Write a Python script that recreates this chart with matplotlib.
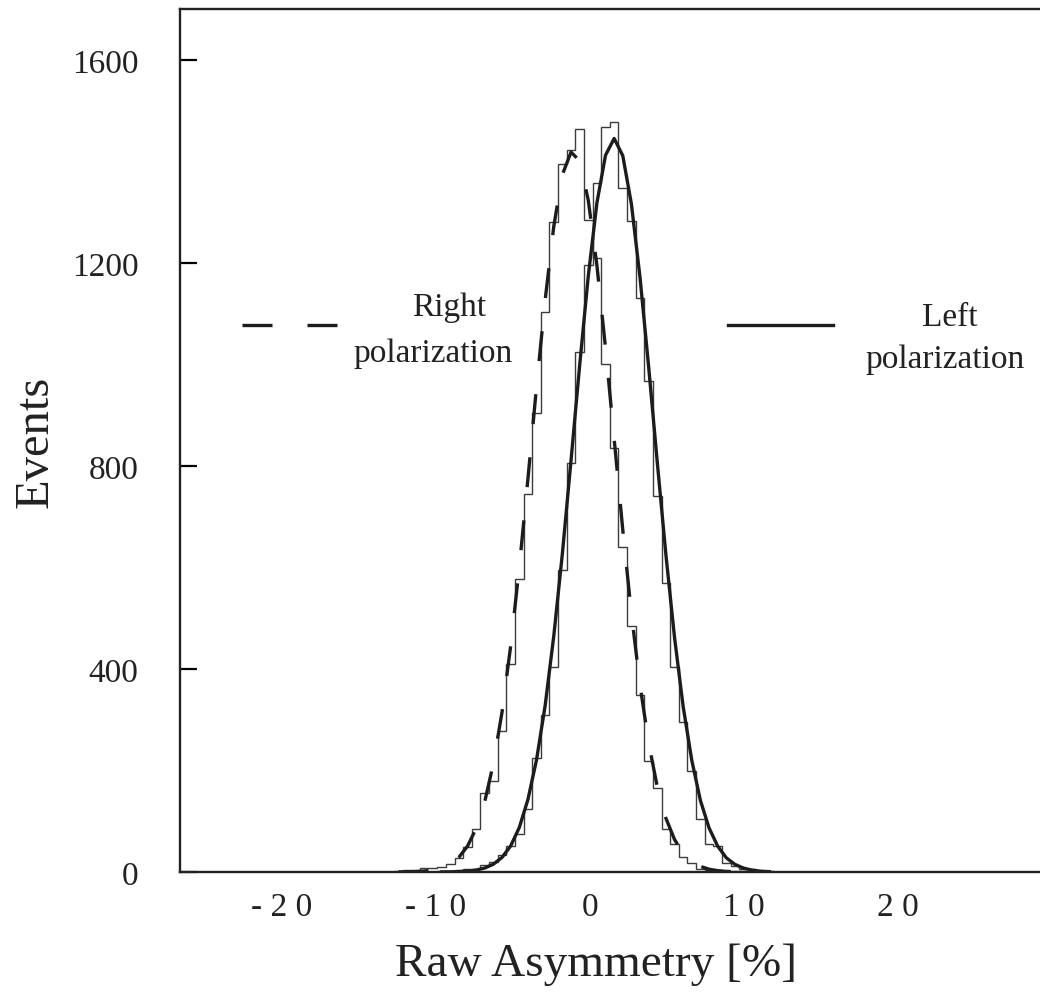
import numpy as np
import matplotlib
matplotlib.use("Agg")
import matplotlib.pyplot as plt
from matplotlib.lines import Line2D

# ---------------- data ----------------
bin_width = 0.56
right_first_edge = -12.71   # Right polarization histogram, first bin edge
left_first_edge = -9.91     # Left polarization histogram, first bin edge

right_counts = [2, 3, 4, 7, 7, 10, 16, 28, 49, 85,
                155, 179, 278, 409, 577, 744, 905, 1104, 1280, 1394,
                1423, 1464, 1285, 1210, 1000, 835, 640, 484, 348, 218,
                165, 85, 55, 30, 18, 5, 4, 3, 2, 2, 1, 1]
left_counts = [1, 2, 3, 6, 6, 14, 20, 33, 51, 75,
               124, 224, 309, 403, 594, 805, 1024, 1195, 1358, 1468,
               1478, 1348, 1283, 1130, 968, 740, 569, 403, 295, 199,
               104, 55, 51, 18, 12, 5, 5, 2, 2]

right_fit = [0.2, 0.4, 0.9, 1.9, 4, 8, 16, 29, 51, 86,
             139, 214, 315, 445, 600, 774, 956, 1127, 1272, 1374,
             1418, 1401, 1323, 1195, 1032, 853, 674, 509, 368, 254,
             168, 106, 64, 37, 21, 11, 5.5, 2.6, 1.2, 0.5, 0.2, 0.1]
left_fit = [0.1, 0.3, 0.8, 1.8, 3.8, 7.8, 15.4, 28.8, 51.3, 87.6,
            142.6, 221, 328, 465, 628, 811, 998, 1174, 1318, 1412,
            1445, 1411, 1316, 1171, 995, 807, 625, 462, 326, 220,
            141, 87, 51, 28, 15, 7.7, 3.6, 1.6, 0.7]

xticks = [-20, -10, 0, 10, 20]
xtick_labels = ["- 2 0", "- 1 0", "0", "1 0", "2 0"]
yticks = [0, 400, 800, 1200, 1600]
ytick_labels = ["0", "400", "800", "1200", "1600"]

# ---------------- figure ----------------
W, H = 1040, 1003
FONT = "Liberation Serif"
plt.rcParams["font.family"] = [FONT, "DejaVu Serif"]
TXT = "#222222"

fig = plt.figure(figsize=(W / 100, H / 100), dpi=100)
fig.patch.set_facecolor("white")
ax = fig.add_axes([180 / W, 130 / H, 862 / W, 863 / H])

right_edges = right_first_edge + bin_width * np.arange(len(right_counts) + 1)
left_edges = left_first_edge + bin_width * np.arange(len(left_counts) + 1)
right_centers = right_edges[:-1] + bin_width / 2
left_centers = left_edges[:-1] + bin_width / 2

hist_col = "#3c3c3c"
ax.stairs(right_counts, right_edges, color=hist_col, lw=1.0, baseline=0)
ax.stairs(left_counts, left_edges, color=hist_col, lw=1.0, baseline=0)

fit_col = "#1c1c1c"
ax.plot(right_centers, right_fit, color=fit_col, lw=2.4, dashes=(9, 10))
ax.plot(left_centers, left_fit, color=fit_col, lw=2.4)

ax.set_xlim(-26.62, 29.35)
ax.set_ylim(0, 1700)

ax.set_xticks(xticks)
ax.set_xticklabels(xtick_labels)
ax.set_yticks(yticks)
ax.set_yticklabels(ytick_labels)
ax.tick_params(axis="x", length=0, pad=14, labelsize=24)
ax.tick_params(axis="y", direction="in", length=12.5, width=1.6, pad=30,
               labelsize=24)
for lab in ax.get_xticklabels() + ax.get_yticklabels():
    lab.set_color(TXT)

for s in ["left", "top", "bottom"]:
    ax.spines[s].set_linewidth(1.7)
    ax.spines[s].set_color(TXT)
ax.spines["right"].set_visible(False)

# ---------------- axis titles and legend (placed in figure pixels) ----------
def fx(px):
    return px / W

def fy(py):
    return 1 - py / H

fig.text(fx(596), fy(965), "Raw Asymmetry [%]", ha="center", va="center",
         fontsize=34, color=TXT)
fig.text(fx(36), fy(442), "Events", ha="center", va="center", rotation=90,
         fontsize=35, color=TXT)

fig.add_artist(Line2D([fx(242), fx(337)], [fy(326), fy(326)], color=fit_col,
                      lw=2.4, dashes=(9, 10.5)))
fig.add_artist(Line2D([fx(728), fx(833)], [fy(326), fy(326)], color=fit_col,
                      lw=2.4))
fig.text(fx(449), fy(308), "Right", ha="center", va="center",
         fontsize=24, color=TXT)
fig.text(fx(433), fy(354), "polarization", ha="center", va="center",
         fontsize=24, color=TXT)
fig.text(fx(950), fy(318), "Left", ha="center", va="center",
         fontsize=24, color=TXT)
fig.text(fx(945), fy(360), "polarization", ha="center", va="center",
         fontsize=24, color=TXT)

fig.savefig("out.png", dpi=100, facecolor="white")
